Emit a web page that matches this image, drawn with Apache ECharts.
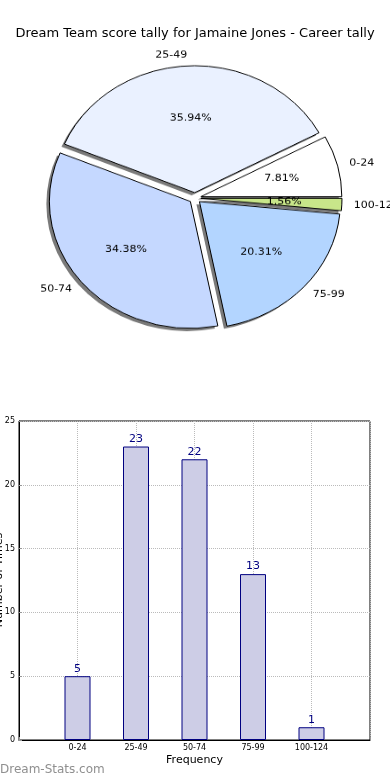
<!DOCTYPE html>
<html>
<head>
<meta charset="utf-8">
<script src="https://cdn.jsdelivr.net/npm/echarts@6/dist/echarts.min.js"></script>
<style>
html,body{margin:0;padding:0;background:#fff;}
#bar{position:absolute;left:0;top:0;width:390px;height:780px;}
#pie{position:absolute;left:0;top:0;width:390px;height:400px;transform:scaleY(0.9);transform-origin:195px 198px;}
</style>
</head>
<body>
<div id="bar"></div>
<div id="pie"></div>
<script>
const titleText = 'Dream Team score tally for Jamaine Jones - Career tally';
const categories = ['0-24', '25-49', '50-74', '75-99', '100-124'];
const counts = [5, 23, 22, 13, 1];
const sliceColors = ['#ffffff', '#eaf1ff', '#c5d8ff', '#b3d5ff', '#c8e68a'];
const yTicks = [0, 5, 10, 15, 20, 25];
const xAxisName = 'Frequency';
const yAxisName = 'Number of Times';
const watermark = 'Dream-Stats.com';

const FONT = 'DejaVu Sans';

// ---------- bar chart + title ----------
const bar = echarts.init(document.getElementById('bar'), null, {renderer: 'canvas'});
const axisCats = [''].concat(categories, ['']);
const barData = [null].concat(counts, [null]);
bar.setOption({
  animation: false,
  backgroundColor: '#fff',
  title: {
    text: titleText, left: 'center', top: 22,
    textStyle: {fontFamily: FONT, fontSize: 13, fontWeight: 'normal', color: '#000'}
  },
  grid: {left: 19, right: 20, top: 421, bottom: 40, show: true, borderColor: '#000', borderWidth: 1,
    containLabel: false, outerBoundsMode: 'none'},
  xAxis: {
    type: 'category', data: axisCats, boundaryGap: false,
    name: xAxisName, nameLocation: 'middle', nameGap: 15,
    nameTextStyle: {fontFamily: FONT, fontSize: 11, color: '#000'},
    axisLine: {show: true, lineStyle: {color: '#000'}},
    axisTick: {show: true, inside: true, length: 3, interval: 0, lineStyle: {color: '#999'}},
    axisLabel: {fontFamily: FONT, fontSize: 8, color: '#000', interval: 0, margin: 4},
    splitLine: {show: true, interval: 0, lineStyle: {color: '#bbb', type: 'dotted', width: 1}}
  },
  yAxis: {
    type: 'value', min: yTicks[0], max: yTicks[yTicks.length - 1], interval: 5,
    axisLine: {show: true, lineStyle: {color: '#000'}},
    axisTick: {show: true, inside: true, length: 3, lineStyle: {color: '#999'}},
    axisLabel: {fontFamily: FONT, fontSize: 8, color: '#000', margin: 4},
    splitLine: {show: true, lineStyle: {color: '#bbb', type: 'dotted', width: 1}}
  },
  series: [{
    type: 'bar', data: barData, barWidth: 26,
    itemStyle: {color: '#cdcde6', borderColor: '#000080', borderWidth: 1},
    label: {show: true, position: 'top', distance: 2, fontFamily: FONT, fontSize: 11, color: '#000080'},
    emphasis: {disabled: true}
  }],
  graphic: [{
    type: 'text', left: 0, top: 764,
    style: {text: watermark, font: '12px "DejaVu Sans"', fill: '#8f8f8f'}
  }, {
    type: 'text', x: -1, y: 580, rotation: Math.PI / 2,
    style: {text: yAxisName, font: '11px "DejaVu Sans"', fill: '#000', align: 'center', verticalAlign: 'middle'}
  }]
});

// ---------- pie chart ----------
const pie = echarts.init(document.getElementById('pie'), null, {renderer: 'canvas'});
const R = 141;
const CX = 195, CY = 198;
const pieData = categories.map((c, i) => ({
  name: c, value: counts[i], selected: true,
  itemStyle: {color: sliceColors[i]}
}));
const plainData = categories.map((c, i) => ({name: c, value: counts[i], selected: true}));
const common = {
  type: 'pie', startAngle: 0, clockwise: false,
  selectedMode: 'multiple', selectedOffset: 6,
  avoidLabelOverlap: false, emphasis: {disabled: true}, silent: true
};
pie.setOption({
  animation: false,
  series: [Object.assign({}, common, {
    // shadow layer
    center: [CX - 3, CY + 3], radius: [0, R],
    data: plainData,
    itemStyle: {color: '#7a7a7a', borderWidth: 0},
    select: {itemStyle: {color: '#7a7a7a', borderWidth: 0}},
    label: {show: false}, labelLine: {show: false}, z: 1
  }), Object.assign({}, common, {
    center: [CX, CY], radius: [0, R],
    data: pieData,
    itemStyle: {borderColor: '#000', borderWidth: 1},
    select: {itemStyle: {borderColor: '#000', borderWidth: 1}},
    label: {show: true, position: 'outside', fontFamily: FONT, fontSize: 11, color: '#000', formatter: '{b}', distanceToLabelLine: 0},
    labelLine: {show: false, length: 12, length2: 0}, z: 2
  }), Object.assign({}, common, {
    center: [CX, CY], radius: [0.14 * R, R],
    data: plainData,
    itemStyle: {color: 'rgba(0,0,0,0)', borderWidth: 0},
    select: {itemStyle: {color: 'rgba(0,0,0,0)', borderWidth: 0}},
    label: {show: true, position: 'inside', fontFamily: FONT, fontSize: 11, color: '#000',
      formatter: p => p.percent.toFixed(2) + '%'},
    labelLine: {show: false}, z: 5
  })]
});
</script>
</body>
</html>
